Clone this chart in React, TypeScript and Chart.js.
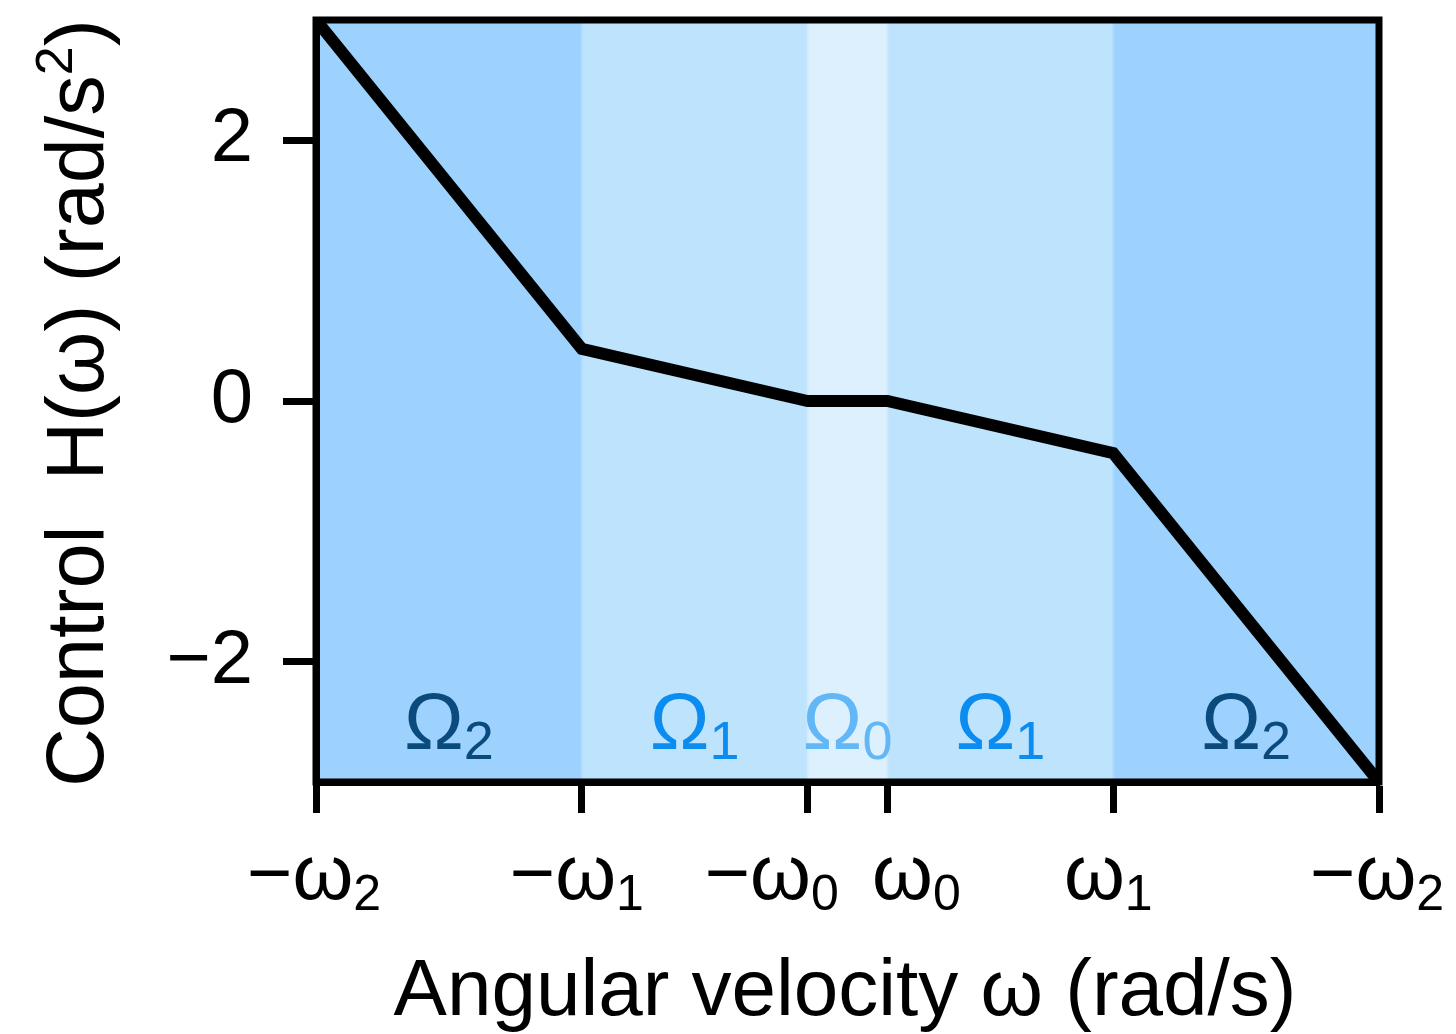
import React, { useEffect, useRef } from 'react';
import { Chart, registerables } from 'chart.js';

Chart.register(...registerables);

const FONT = '"Liberation Sans", Arial, Helvetica, sans-serif';

// Control law H(ω): breakpoints of the piecewise-linear curve
const omegaValues = [-4, -2, -0.3, 0.3, 2, 4];
const controlValues = [2.92, 0.4, 0, 0, -0.4, -2.92];

// Axis ticks
const xTickValues = [-4, -2, -0.3, 0.3, 2, 4];
const xTickMain = ['−ω', '−ω', '−ω', 'ω', 'ω', '−ω'];
const xTickSub = ['2', '1', '0', '0', '1', '2'];
const xTickLabelShift = [-2, -5, -36, 29, -5, -2];
const yTickValues = [-2, 0, 2];

// Regions Ω
const regionEdges = [-4, -2, -0.3, 0.3, 2, 4];
const regionSub = ['2', '1', '0', '1', '2'];
const regionFill = ['#9dd2fe', '#bee3fd', '#ddf0fe', '#bee3fd', '#9dd2fe'];
const regionEdgeColor = ['#b0dafd', '#cfe9fd', '#cfe9fd', '#b0dafd'];
const regionTextColor = ['#0b4a7c', '#0b8cf0', '#62b7f7', '#0b8cf0', '#0b4a7c'];

const X_MIN = -4;
const X_MAX = 4;
const Y_MIN = -2.92;
const Y_MAX = 2.92;

function drawWithSub(
  ctx: CanvasRenderingContext2D,
  main: string,
  sub: string,
  cx: number,
  baseline: number,
  mainSize: number,
  subSize: number,
  subDrop: number,
  color: string
) {
  ctx.fillStyle = color;
  ctx.textBaseline = 'alphabetic';
  ctx.textAlign = 'left';
  ctx.font = `${mainSize}px ${FONT}`;
  const wm = ctx.measureText(main).width;
  ctx.font = `${subSize}px ${FONT}`;
  const ws = ctx.measureText(sub).width;
  const x0 = cx - (wm + ws) / 2;
  ctx.font = `${mainSize}px ${FONT}`;
  ctx.fillText(main, x0, baseline);
  ctx.font = `${subSize}px ${FONT}`;
  ctx.fillText(sub, x0 + wm, baseline + subDrop);
}

const decorPlugin = {
  id: 'decor',
  beforeDraw(chart: any) {
    const { ctx, chartArea: a } = chart;
    const xs = chart.scales.x;
    ctx.save();
    for (let i = 0; i < regionFill.length; i++) {
      const x0 = xs.getPixelForValue(regionEdges[i]);
      const x1 = xs.getPixelForValue(regionEdges[i + 1]);
      ctx.fillStyle = regionFill[i];
      ctx.fillRect(x0, a.top, x1 - x0, a.bottom - a.top);
    }
    for (let i = 1; i < regionEdges.length - 1; i++) {
      const px = xs.getPixelForValue(regionEdges[i]);
      ctx.fillStyle = regionEdgeColor[i - 1];
      ctx.fillRect(px - 1, a.top, 2, a.bottom - a.top);
    }
    for (let i = 0; i < regionSub.length; i++) {
      const cx = (xs.getPixelForValue(regionEdges[i]) + xs.getPixelForValue(regionEdges[i + 1])) / 2;
      drawWithSub(ctx, 'Ω', regionSub[i], cx, 749, 80, 54, 10, regionTextColor[i]);
    }
    ctx.restore();
  },
  afterDraw(chart: any) {
    const { ctx, chartArea: a } = chart;
    const xs = chart.scales.x;
    ctx.save();
    // frame
    ctx.strokeStyle = '#000';
    ctx.lineWidth = 7;
    ctx.lineJoin = 'miter';
    ctx.strokeRect(a.left, a.top, a.right - a.left, a.bottom - a.top);
    // x tick labels
    for (let i = 0; i < xTickValues.length; i++) {
      const px = xs.getPixelForValue(xTickValues[i]) + xTickLabelShift[i];
      drawWithSub(ctx, xTickMain[i], xTickSub[i], px, 899, 78, 50, 11, '#000');
    }
    // x title
    ctx.fillStyle = '#000';
    ctx.font = `80px ${FONT}`;
    ctx.textAlign = 'center';
    ctx.textBaseline = 'alphabetic';
    ctx.fillText('Angular velocity ω (rad/s)', 845, 1015);
    // y title with superscript
    const p1 = 'Control  H(ω) (rad/s';
    const p2 = '2';
    const p3 = ')';
    ctx.font = `81px ${FONT}`;
    const w1 = ctx.measureText(p1).width;
    const w3 = ctx.measureText(p3).width;
    ctx.font = `52px ${FONT}`;
    const w2 = ctx.measureText(p2).width;
    const total = w1 + w2 + w3;
    ctx.translate(103, 403);
    ctx.rotate(-Math.PI / 2);
    ctx.textAlign = 'left';
    let sx = -total / 2;
    ctx.font = `81px ${FONT}`;
    ctx.fillText(p1, sx, 0);
    sx += w1;
    ctx.font = `52px ${FONT}`;
    ctx.fillText(p2, sx, -31);
    sx += w2;
    ctx.font = `81px ${FONT}`;
    ctx.fillText(p3, sx, 0);
    ctx.restore();
  },
};

export default function App() {
  const canvasRef = useRef<HTMLCanvasElement | null>(null);

  useEffect(() => {
    const canvas = canvasRef.current;
    if (!canvas) return;
    const chart = new Chart(canvas, {
      type: 'line',
      data: {
        datasets: [
          {
            data: omegaValues.map((w, i) => ({ x: w, y: controlValues[i] })),
            borderColor: '#000',
            borderWidth: 12,
            pointRadius: 0,
            tension: 0,
            clip: 0,
            borderJoinStyle: 'miter',
            fill: false,
          } as any,
        ],
      },
      options: {
        animation: false,
        responsive: false,
        devicePixelRatio: 1,
        events: [],
        layout: { padding: { left: 0, top: 20, right: 77, bottom: 0 } },
        plugins: { legend: { display: false }, tooltip: { enabled: false } },
        scales: {
          x: {
            type: 'linear',
            min: X_MIN,
            max: X_MAX,
            afterBuildTicks: (s: any) => {
              s.ticks = xTickValues.map((v) => ({ value: v }));
            },
            afterFit: (s: any) => {
              s.height = 252;
              s.paddingLeft = 0;
              s.paddingRight = 0;
            },
            ticks: { callback: () => '', autoSkip: false, font: { size: 10, family: FONT } },
            grid: {
              drawOnChartArea: false,
              drawTicks: true,
              tickLength: 31,
              tickWidth: 7,
              tickColor: '#000',
            },
            border: { display: true, color: '#000', width: 7 },
          },
          y: {
            type: 'linear',
            min: Y_MIN,
            max: Y_MAX,
            afterBuildTicks: (s: any) => {
              s.ticks = yTickValues.map((v) => ({ value: v }));
            },
            afterFit: (s: any) => {
              s.width = 316;
              s.paddingTop = 0;
              s.paddingBottom = 0;
            },
            ticks: {
              callback: (v: any) => String(v).replace('-', '−'),
              font: { size: 76, family: FONT },
              color: '#000',
              padding: 30,
            },
            grid: {
              drawOnChartArea: false,
              drawTicks: true,
              tickLength: 33,
              tickWidth: 7,
              tickColor: '#000',
            },
            border: { display: true, color: '#000', width: 7 },
          },
        },
      } as any,
      plugins: [decorPlugin],
    });
    return () => chart.destroy();
  }, []);

  return (
    <div style={{ position: 'fixed', left: 0, top: 0, width: 1456, height: 1034, background: '#fff' }}>
      <canvas ref={canvasRef} width={1456} height={1034} style={{ display: 'block', width: 1456, height: 1034 }} />
    </div>
  );
}
